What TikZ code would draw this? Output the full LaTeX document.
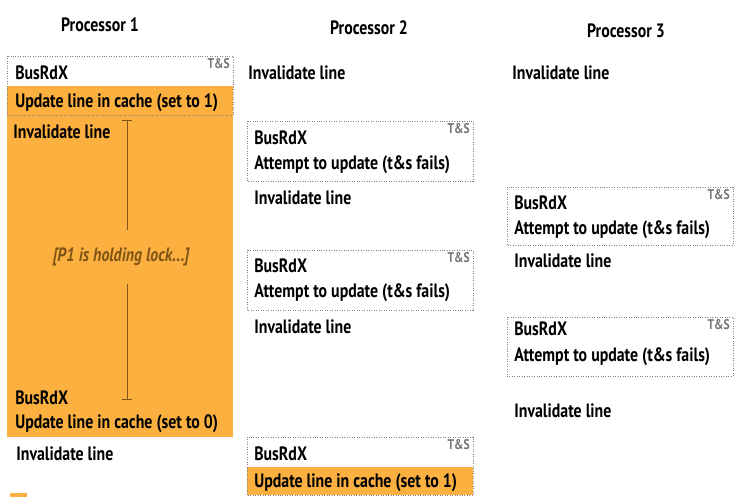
\documentclass[tikz,border=0pt]{standalone}
\usepackage{fontspec}
\setmainfont[FakeStretch=0.82]{PT Sans}
\usepackage{xcolor}
\usepackage{tikz}
\usetikzlibrary{arrows.meta}
\definecolor{lockorange}{RGB}{251,176,64}
\definecolor{lockbrown}{RGB}{128,84,22}

\begin{document}
\begin{tikzpicture}[x=0.02cm, y=-0.02cm, every node/.style={inner sep=0pt, font=\bfseries\fontsize{11}{12}\selectfont},
  txt/.style={anchor=west, yshift=-1.2pt}, ts/.style={anchor=north east, text=gray!90!black, font=\bfseries\fontsize{8}{8}\selectfont},
  tsbox/.style={draw=gray, densely dotted}]
\useasboundingbox (0,0) rectangle (747,497);

\fill[color=lockorange] (7,86) rectangle (233,437);
\fill[color=lockorange] (247,467) rectangle (473,495);
\fill[color=lockorange] (10,493) rectangle (27,497);

\draw[tsbox] (7,56) rectangle (233,115);
\draw[tsbox] (247,121) rectangle (473,181);
\draw[tsbox] (247,250) rectangle (473,310);
\draw[tsbox] (247,437) rectangle (473,495);
\draw[tsbox] (507,187) rectangle (733,245);
\draw[tsbox] (507,317) rectangle (733,376);

\node(P1) at (100,25) {Processor 1};
\node(P2) at (369,28) {Processor 2};
\node(P3) at (626,31) {Processor 3};

\node(ts1)[ts] at (230,58) {T\&S};
\node(ts2)[ts] at (470,123) {T\&S};
\node(ts3)[ts] at (470,252) {T\&S};
\node(ts4)[ts] at (470,439) {T\&S};
\node(ts5)[ts] at (730,189) {T\&S};
\node(ts6)[ts] at (730,319) {T\&S};

\node(a1)[txt] at (15,71) {BusRdX};
\node(a2)[txt] at (15,101) {Update line in cache (set to 1)};
\node(a3)[txt] at (13,130) {Invalidate line};
\node(a4)[txt] at (15,396) {BusRdX};
\node(a5)[txt] at (15,422) {Update line in cache (set to 0)};
\node(a6)[txt] at (16,452) {Invalidate line};

\node(b1)[txt] at (248,71) {Invalidate line};
\node(b2)[txt] at (254,136) {BusRdX};
\node(b3)[txt] at (254,163) {Attempt to update (t\&s fails)};
\node(b4)[txt] at (254,196) {Invalidate line};
\node(b5)[txt] at (254,264) {BusRdX};
\node(b6)[txt] at (254,291) {Attempt to update (t\&s fails)};
\node(b7)[txt] at (254,325) {Invalidate line};
\node(b8)[txt] at (254,452) {BusRdX};
\node(b9)[txt] at (254,481) {Update line in cache (set to 1)};

\node(c1)[txt] at (512,71) {Invalidate line};
\node(c2)[txt] at (514,201) {BusRdX};
\node(c3)[txt] at (514,228) {Attempt to update (t\&s fails)};
\node(c4)[txt] at (514,259) {Invalidate line};
\node(c5)[txt] at (514,327) {BusRdX};
\node(c6)[txt] at (514,355) {Attempt to update (t\&s fails)};
\node(c7)[txt] at (514,409) {Invalidate line};

\node(hold)[text=lockbrown, font=\bfseries\itshape\fontsize{11}{12}\selectfont, minimum height=54*0.02cm] at (121,257) {[P1 is holding lock...]};

\coordinate (top) at (127,120);
\coordinate (bot) at (127,400);

\begin{scope}[lockbrown, thin, {Bar[width=6pt]}-]
\draw (top) -- (top |- hold.north);
\draw (bot) -- (bot |- hold.south);
\end{scope}

\end{tikzpicture}
\end{document}
